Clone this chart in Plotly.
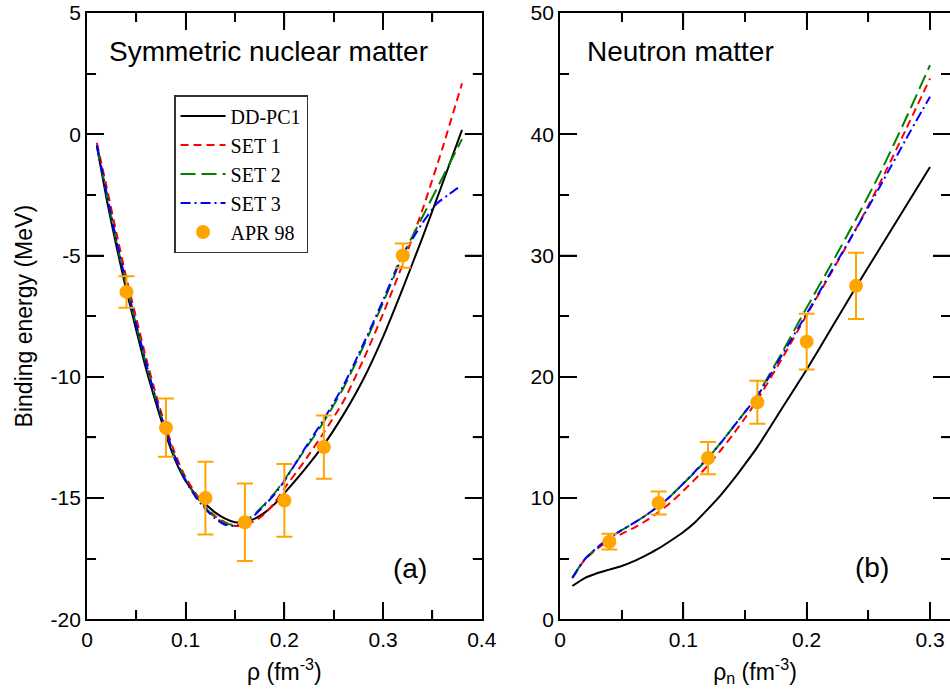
import plotly.graph_objects as go

# ---------------- data: (a) symmetric nuclear matter ----------------
rho_a = [0.01, 0.02, 0.03, 0.04, 0.05, 0.06, 0.07, 0.08, 0.09, 0.10, 0.11, 0.12, 0.13, 0.14,
         0.15, 0.16, 0.17, 0.18, 0.19, 0.20, 0.22, 0.24, 0.26, 0.28, 0.30, 0.32, 0.34, 0.36, 0.38]
ddpc1_a = [-0.5, -2.7, -4.65, -6.45, -8.1, -9.7, -11.1, -12.4, -13.5, -14.3, -14.85, -15.25, -15.6, -15.85,
           -16.0, -16.0, -15.85, -15.6, -15.25, -14.8, -13.85, -12.8, -11.55, -10.1, -8.35, -6.35, -4.25, -2.05, 0.18]
set1_a = [-0.35, -2.2, -4.1, -5.95, -7.6, -9.25, -10.75, -12.1, -13.25, -14.15, -14.8, -15.35, -15.75, -16.0,
          -16.15, -16.1, -15.95, -15.65, -15.2, -14.6, -13.5, -12.3, -11.0, -9.3, -7.4, -5.35, -3.1, -0.6, 2.1]
set2_a = [-0.45, -2.5, -4.45, -6.25, -7.9, -9.5, -10.95, -12.25, -13.4, -14.25, -14.9, -15.4, -15.8, -16.05,
          -16.1, -15.95, -15.65, -15.25, -14.8, -14.25, -13.05, -11.85, -10.45, -8.75, -6.95, -5.0, -3.4, -1.8, -0.2]
rho_a3 = [0.01, 0.02, 0.03, 0.04, 0.05, 0.06, 0.07, 0.08, 0.09, 0.10, 0.11, 0.12, 0.13, 0.14,
          0.15, 0.16, 0.17, 0.18, 0.19, 0.20, 0.22, 0.24, 0.26, 0.28, 0.30, 0.32, 0.33, 0.34, 0.354, 0.366, 0.378]
set3_a = [-0.45, -2.45, -4.4, -6.2, -7.85, -9.45, -10.95, -12.25, -13.4, -14.3, -14.95, -15.45, -15.85, -16.1,
          -16.15, -16.0, -15.7, -15.3, -14.85, -14.3, -13.0, -11.75, -10.35, -8.65, -6.85, -4.95, -4.3, -3.65, -2.88, -2.5, -2.15]
apr_rho_a = [0.04, 0.08, 0.12, 0.16, 0.20, 0.24, 0.32]
apr_e_a = [-6.5, -12.1, -15.0, -16.0, -15.1, -12.9, -5.0]
apr_err_a = [0.65, 1.2, 1.5, 1.6, 1.5, 1.3, 0.5]
yticks_a = [-20, -15, -10, -5, 0, 5]
yticktext_a = ["-20", "-15", "-10", "-5", "0", "5"]
yminor_a = [-17.5, -12.5, -7.5, -2.5, 2.5]
xticks_a = [0, 0.1, 0.2, 0.3, 0.4]
xticktext_a = ["0", "0.1", "0.2", "0.3", "0.4"]
xminor_a = [0.05, 0.15, 0.25, 0.35]

# ---------------- data: (b) neutron matter ----------------
rho_b = [0.01, 0.02, 0.03, 0.04, 0.05, 0.06, 0.07, 0.08, 0.09, 0.10, 0.11, 0.12, 0.13, 0.14,
         0.15, 0.16, 0.18, 0.20, 0.22, 0.24, 0.26, 0.28, 0.30]
ddpc1_b = [2.75, 3.4, 3.8, 4.1, 4.4, 4.8, 5.3, 5.85, 6.5, 7.2, 8.05, 9.1, 10.2, 11.45,
           12.8, 14.2, 17.4, 20.6, 24.0, 27.4, 30.7, 34.0, 37.3]
set1_b = [3.4, 4.9, 5.8, 6.5, 7.05, 7.55, 8.15, 8.85, 9.65, 10.6, 11.6, 12.7, 13.9, 15.2,
          16.6, 18.1, 21.5, 25.1, 28.6, 32.2, 36.1, 40.3, 44.6]
set2_b = [3.45, 4.95, 5.9, 6.7, 7.35, 7.95, 8.6, 9.35, 10.2, 11.2, 12.2, 13.3, 14.5, 15.8,
          17.1, 18.5, 22.0, 25.7, 29.3, 33.0, 36.9, 41.2, 45.7]
set3_b = [3.4, 4.95, 5.9, 6.7, 7.35, 7.95, 8.6, 9.35, 10.2, 11.2, 12.25, 13.35, 14.5, 15.8,
          17.1, 18.4, 21.8, 25.2, 28.7, 32.2, 35.8, 39.5, 43.1]
apr_rho_b = [0.04, 0.08, 0.12, 0.16, 0.20, 0.24]
apr_e_b = [6.4, 9.6, 13.3, 17.9, 22.9, 27.5]
apr_err_b = [0.65, 0.95, 1.33, 1.78, 2.3, 2.73]
yticks_b = [0, 10, 20, 30, 40, 50]
yminor_b = [5, 15, 25, 35, 45]
xticks_b = [0, 0.1, 0.2, 0.3]
xticktext_b = ["0", "0.1", "0.2", "0.3"]
xminor_b = [0.05, 0.15, 0.25]

names = ["DD-PC1", "SET 1", "SET 2", "SET 3"]
colors = ["black", "#ff0000", "#008000", "#0000ff"]
dashes = ["solid", "8px,5px", "15px,6px", "10px,4px,2px,4px"]
ORANGE = "#ffa500"

W, H = 950, 696
XDOM_A = [0.0916, 0.5071]
XDOM_B = [0.5895, 1.0]
YDOM = [0.1102, 0.9813]
MAJ, MIN = 17, 9  # tick lengths in px

fig = go.Figure()

series_a = [(rho_a, ddpc1_a), (rho_a, set1_a), (rho_a, set2_a), (rho_a3, set3_a)]
series_b = [(rho_b, ddpc1_b), (rho_b, set1_b), (rho_b, set2_b), (rho_b, set3_b)]

for i, (xs, ys) in enumerate(series_a):
    fig.add_trace(go.Scatter(x=xs, y=ys, mode="lines", name=names[i],
                             line=dict(color=colors[i], width=2, dash=dashes[i], shape="spline", smoothing=0.6),
                             xaxis="x", yaxis="y", showlegend=True))
fig.add_trace(go.Scatter(x=apr_rho_a, y=apr_e_a, mode="markers", name="APR 98",
                         marker=dict(color=ORANGE, size=14),
                         error_y=dict(type="data", array=apr_err_a, color=ORANGE, thickness=2, width=8),
                         xaxis="x", yaxis="y", showlegend=True))

for i, (xs, ys) in enumerate(series_b):
    fig.add_trace(go.Scatter(x=xs, y=ys, mode="lines", name=names[i],
                             line=dict(color=colors[i], width=2, dash=dashes[i], shape="spline", smoothing=0.6),
                             xaxis="x2", yaxis="y2", showlegend=False))
fig.add_trace(go.Scatter(x=apr_rho_b, y=apr_e_b, mode="markers", name="APR 98",
                         marker=dict(color=ORANGE, size=14),
                         error_y=dict(type="data", array=apr_err_b, color=ORANGE, thickness=2, width=8),
                         xaxis="x2", yaxis="y2", showlegend=False))

SANS = "Liberation Sans, Arial, sans-serif"
tickfont = dict(family=SANS, size=21, color="black")
titlefont = dict(family=SANS, size=23, color="black")

common = dict(showline=True, linecolor="black", linewidth=2, mirror="allticks",
              ticks="inside", ticklen=MAJ, tickwidth=1.5, tickcolor="black",
              showgrid=False, zeroline=False, tickfont=tickfont,
              ticklabeloverflow="allow", automargin=False)


def minor(step):
    return dict(dtick=step, tick0=0, ticks="inside", ticklen=MIN, tickwidth=1.5, tickcolor="black")


# tick marks drawn as shapes (positioned by the axes' own scales) so they always show
shapes = []
TICK = dict(color="black", width=1.5)


def x_ticks(xref, yref, vals, length):
    f = length / ((YDOM[1] - YDOM[0]) * H)
    for v in vals:
        shapes.append(dict(type="line", xref=xref, yref=yref, x0=v, x1=v, y0=0, y1=f, line=TICK, layer="above"))
        shapes.append(dict(type="line", xref=xref, yref=yref, x0=v, x1=v, y0=1, y1=1 - f, line=TICK, layer="above"))


def y_ticks(xref, yref, vals, length, dom_x):
    f = length / ((dom_x[1] - dom_x[0]) * W)
    for v in vals:
        shapes.append(dict(type="line", xref=xref, yref=yref, y0=v, y1=v, x0=0, x1=f, line=TICK, layer="above"))
        shapes.append(dict(type="line", xref=xref, yref=yref, y0=v, y1=v, x0=1, x1=1 - f, line=TICK, layer="above"))


x_ticks("x", "y domain", xticks_a[1:-1], MAJ)
x_ticks("x", "y domain", xminor_a, MIN)
y_ticks("x domain", "y", yticks_a[1:-1], MAJ, XDOM_A)
y_ticks("x domain", "y", yminor_a, MIN, XDOM_A)
x_ticks("x2", "y2 domain", xticks_b[1:], MAJ)
x_ticks("x2", "y2 domain", xminor_b, MIN)
y_ticks("x2 domain", "y2", yticks_b[1:-1], MAJ, XDOM_B)
y_ticks("x2 domain", "y2", yminor_b, MIN, XDOM_B)

fig.update_layout(
    template="none",
    width=W, height=H,
    margin=dict(l=0, r=0, t=0, b=0, autoexpand=False),
    paper_bgcolor="white", plot_bgcolor="white",
    font=dict(family=SANS, size=22, color="black"),
    xaxis=dict(domain=XDOM_A, range=[0, 0.4], tickmode="array", tickvals=xticks_a,
               ticktext=xticktext_a, minor=minor(0.05),
               title=dict(text="ρ (fm<sup>-3</sup>)", font=titlefont, standoff=14),
               anchor="y", **common),
    yaxis=dict(domain=YDOM, range=[-20, 5], tickmode="array", tickvals=yticks_a, ticktext=yticktext_a,
               minor=minor(2.5),
               title=dict(text="Binding energy (MeV)", font=titlefont, standoff=11),
               anchor="x", **common),
    xaxis2=dict(domain=XDOM_B, range=[0, 0.3162], tickmode="array", tickvals=xticks_b,
                ticktext=xticktext_b, minor=minor(0.05),
                title=dict(text="ρ<sub>n</sub> (fm<sup>-3</sup>)", font=titlefont, standoff=14),
                anchor="y2", **common),
    yaxis2=dict(domain=YDOM, range=[0, 50], tickmode="array", tickvals=yticks_b,
                minor=minor(5),
                anchor="x2", **common),
    legend=dict(x=0.1832, y=0.8635, xanchor="left", yanchor="top",
                bgcolor="white", bordercolor="#333333", borderwidth=1.5, itemwidth=45,
                font=dict(family="Liberation Serif, Times New Roman, serif", size=20, color="black"),
                tracegroupgap=0),
    shapes=shapes,
    annotations=[
        dict(text="Symmetric nuclear matter", xref="x domain", yref="y domain", x=0.05, y=0.9357,
             xanchor="left", yanchor="middle", showarrow=False, font=dict(family=SANS, size=28, color="black")),
        dict(text="Neutron matter", xref="x2 domain", yref="y2 domain", x=0.064, y=0.9357,
             xanchor="left", yanchor="middle", showarrow=False, font=dict(family=SANS, size=28, color="black")),
        dict(text="(a)", xref="x domain", yref="y domain", x=0.818, y=0.083,
             xanchor="center", yanchor="middle", showarrow=False, font=dict(family=SANS, size=28, color="black")),
        dict(text="(b)", xref="x2 domain", yref="y2 domain", x=0.801, y=0.0854,
             xanchor="center", yanchor="middle", showarrow=False, font=dict(family=SANS, size=28, color="black")),
    ],
)

fig.write_html("out.html", config={"displayModeBar": False},
               post_script="document.body.style.margin='0';document.body.style.overflow='hidden';")
